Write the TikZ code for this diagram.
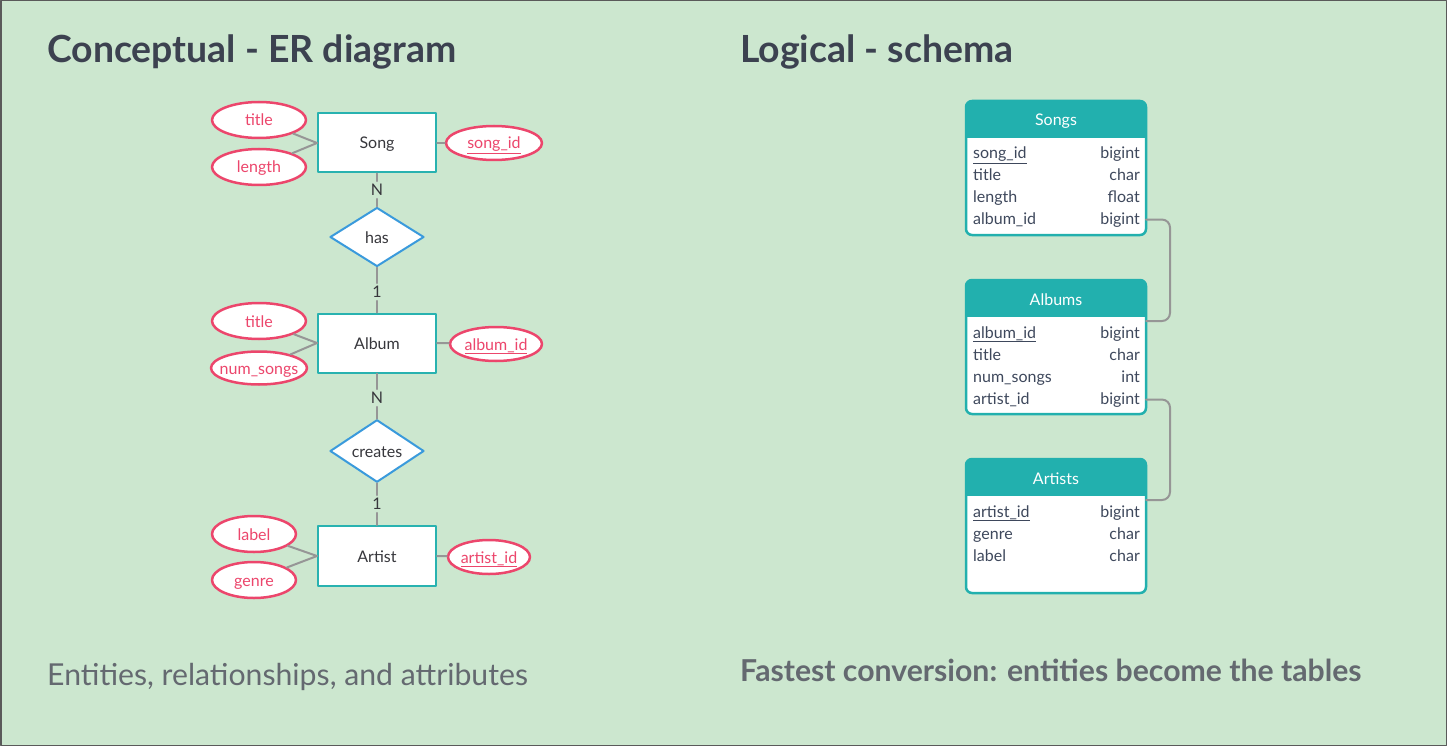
\documentclass[tikz,border=0pt]{standalone}
\usepackage{fontspec}
\setmainfont{Lato}
\usetikzlibrary{shapes.geometric,positioning}

\definecolor{bgc}{RGB}{204,231,207}
\definecolor{frame}{RGB}{90,90,90}
\definecolor{erteal}{RGB}{40,178,176}
\definecolor{tblteal}{RGB}{34,176,174}
\definecolor{erpink}{RGB}{236,70,108}
\definecolor{erblue}{RGB}{58,154,220}
\definecolor{linkgray}{RGB}{150,150,150}
\definecolor{ername}{RGB}{55,55,60}
\definecolor{rowtext}{RGB}{62,72,92}
\definecolor{titlec}{RGB}{60,66,80}
\definecolor{subc}{RGB}{100,105,112}

\begin{document}
\begin{tikzpicture}[x=1pt,y=-1pt,line cap=round,line join=round,
  every node/.style={font=\fontsize{16}{19}\selectfont},
  entity/.style={draw=erteal,line width=2pt,fill=white,minimum width=118pt,minimum height=59pt,inner sep=0pt,text=ername,text height=12pt,text depth=0pt},
  attr/.style={ellipse,draw=erpink,line width=2.5pt,fill=white,minimum width=94pt,minimum height=36pt,inner sep=0pt,inner xsep=-12pt,text=erpink,text height=12pt,text depth=0pt},
  rel/.style={diamond,draw=erblue,line width=2pt,fill=white,minimum width=94pt,minimum height=59pt,inner sep=0pt,text=ername,text height=12pt,text depth=0pt},
  card/.style={inner sep=3pt,text=ername},
  link/.style={draw=linkgray,line width=2pt},
  tbl/.style={draw=tblteal,line width=2.5pt,fill=white,rounded corners=6pt,minimum width=180pt,minimum height=134pt,inner sep=0pt,outer sep=0pt},
  hdr/.style={anchor=base,text=white,inner sep=0pt},
  fld/.style={anchor=base west,text=rowtext,inner sep=0pt},
  typ/.style={anchor=base east,text=rowtext,inner sep=0pt}]
  \useasboundingbox (0,0) rectangle (1447,746);
  \fill[bgc] (0,0) rectangle (1447,746);
  \draw[frame,line width=1.5pt] (0.75,0.75) rectangle (1446.25,745.25);

  % headings
  \node[anchor=base west,inner sep=0pt,font=\fontsize{37.4}{42}\selectfont\bfseries,text=titlec] (conc) at (47,63) {Conceptual - ER diagram};
  \node[anchor=base west,inner sep=0pt,font=\fontsize{37.4}{42}\selectfont\bfseries,text=titlec] (logi) at (740,63) {Logical - schema};
  \node[anchor=base west,inner sep=0pt,font=\fontsize{30.2}{34}\selectfont,text=subc] (concsub) at (47,685) {Entities, relationships, and attributes};
  \node[anchor=base west,inner sep=0pt,font=\fontsize{30.2}{34}\selectfont\bfseries,text=subc] (logisub) at (740,681) {Fastest conversion: entities become the tables};

  % ER diagram
  \node[entity] (song) at (377,143) {Song};
  \node[entity] (album) at (377,343) {Album};
  \node[entity,minimum height=60pt] (artist) at (377,556) {Artist};
  \node[rel] (has) at (377,237) {has};
  \node[rel] (creates) at (377,451) {creates};
  \node[card] (n1) at (377,190) {N};
  \node[card] (one1) at (377,292) {1};
  \node[card] (n2) at (377,398) {N};
  \node[card] (one2) at (377,504) {1};

  \node[attr] (stitle) at (259,120) {title};
  \node[attr] (slength) at (259,167) {length};
  \node[attr,minimum width=96pt,minimum height=34pt] (sid) at (494,143) {\underline{song\_id}};
  \node[attr] (atitle) at (259,321) {title};
  \node[attr,minimum width=96pt,minimum height=33pt] (anum) at (259,368) {num\_songs};
  \node[attr,minimum width=92pt,minimum height=34pt] (aid) at (496,344) {\underline{album\_id}};
  \node[attr,minimum width=84pt] (rlabel) at (254,534) {label};
  \node[attr,minimum width=84pt] (rgenre) at (254,580) {genre};
  \node[attr,minimum width=82pt,minimum height=34pt] (rid) at (489,557) {\underline{artist\_id}};

  \draw[link] (song) -- (n1);
  \draw[link] (n1) -- (has);
  \draw[link] (has) -- (one1);
  \draw[link] (one1) -- (album);
  \draw[link] (album) -- (n2);
  \draw[link] (n2) -- (creates);
  \draw[link] (creates) -- (one2);
  \draw[link] (one2) -- (artist);
  \draw[link] (stitle) -- (song.west);
  \draw[link] (slength) -- (song.west);
  \draw[link] (sid) -- (song.east);
  \draw[link] (atitle) -- (album.west);
  \draw[link] (anum) -- (album.west);
  \draw[link] (aid) -- (album.east);
  \draw[link] (rlabel) -- (artist.west);
  \draw[link] (rgenre) -- (artist.west);
  \draw[link] (rid) -- (artist.east);

  % schema tables
  \node[tbl] (songs) at (1056,168) {};
  \begin{scope}
    \clip[rounded corners=6pt] (songs.south west) rectangle (songs.north east);
    \fill[tblteal] (songs.north west) rectangle ([yshift=-37pt]songs.north east);
  \end{scope}
  \node[hdr] (songs-h) at (1056,126) {Songs};
  \node[fld] (songs-f1) at (973,159) {\underline{song\_id}};
  \node[fld] (songs-f2) at (973,181) {title};
  \node[fld] (songs-f3) at (973,202) {length};
  \node[fld] (songs-f4) at (973,224) {album\_id};
  \node[typ] (songs-t1) at (1140,159) {bigint};
  \node[typ] (songs-t2) at (1140,181) {char};
  \node[typ] (songs-t3) at (1140,202) {float};
  \node[typ] (songs-t4) at (1140,224) {bigint};

  \node[tbl] (albums) at (1056,347) {};
  \begin{scope}
    \clip[rounded corners=6pt] (albums.south west) rectangle (albums.north east);
    \fill[tblteal] (albums.north west) rectangle ([yshift=-37pt]albums.north east);
  \end{scope}
  \node[hdr] (albums-h) at (1056,305) {Albums};
  \node[fld] (albums-f1) at (973,338) {\underline{album\_id}};
  \node[fld] (albums-f2) at (973,360) {title};
  \node[fld] (albums-f3) at (973,382) {num\_songs};
  \node[fld] (albums-f4) at (973,404) {artist\_id};
  \node[typ] (albums-t1) at (1140,338) {bigint};
  \node[typ] (albums-t2) at (1140,360) {char};
  \node[typ] (albums-t3) at (1140,382) {int};
  \node[typ] (albums-t4) at (1140,404) {bigint};

  \node[tbl] (artists) at (1056,526) {};
  \begin{scope}
    \clip[rounded corners=6pt] (artists.south west) rectangle (artists.north east);
    \fill[tblteal] (artists.north west) rectangle ([yshift=-37pt]artists.north east);
  \end{scope}
  \node[hdr] (artists-h) at (1056,484) {Artists};
  \node[fld] (artists-f1) at (973,517) {\underline{artist\_id}};
  \node[fld] (artists-f2) at (973,539) {genre};
  \node[fld] (artists-f3) at (973,561) {label};
  \node[typ] (artists-t1) at (1140,517) {bigint};
  \node[typ] (artists-t2) at (1140,539) {char};
  \node[typ] (artists-t3) at (1140,561) {char};

  \draw[link,rounded corners=8pt] (songs.east |- songs-t4) -- ++(24,0) |- ([yshift=-41pt]albums.north east);
  \draw[link,rounded corners=8pt] (albums.east |- albums-t4) -- ++(24,0) |- ([yshift=-41pt]artists.north east);
\end{tikzpicture}
\end{document}
